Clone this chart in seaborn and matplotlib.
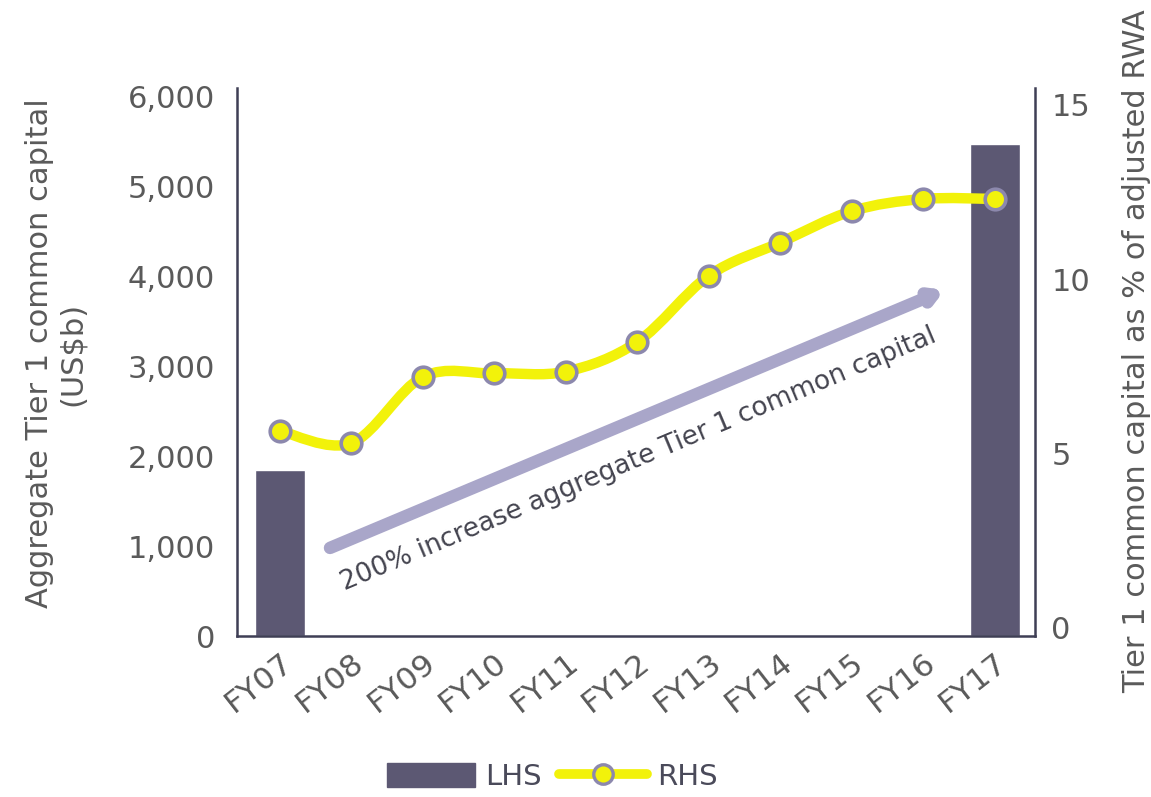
import numpy as np
import pandas as pd
import matplotlib
matplotlib.use("Agg")
import matplotlib.pyplot as plt
import seaborn as sns
from matplotlib.path import Path
from matplotlib.patches import PathPatch, Patch
from matplotlib.lines import Line2D

# Fiscal years on the category axis
years = ["FY07", "FY08", "FY09", "FY10", "FY11", "FY12",
         "FY13", "FY14", "FY15", "FY16", "FY17"]
# Aggregate Tier 1 common capital, US$b (left axis) - only endpoints shown
capital = [1850, np.nan, np.nan, np.nan, np.nan, np.nan,
           np.nan, np.nan, np.nan, np.nan, 5470]
# Tier 1 common capital as % of adjusted RWA (right axis)
ratio = [5.65, 5.3, 7.2, 7.3, 7.35, 8.2, 10.1, 11.05, 11.95, 12.3, 12.3]

left_ticks = [0, 1000, 2000, 3000, 4000, 5000, 6000]
right_ticks = [0, 5, 10, 15]

bar_color = "#5c5873"
line_color = "#f2f20a"
marker_edge = "#8c88ad"
arrow_color = "#a9a6c9"
text_color = "#5a5a5a"
spine_color = "#3f3f55"

sns.set_style("white")
plt.rcParams["font.family"] = ["DejaVu Sans"]

fig = plt.figure(figsize=(11.51, 7.97), dpi=100)
ax = fig.add_axes([0.206, 0.202, 0.693, 0.688])

df = pd.DataFrame({"year": years, "capital": capital})
sns.barplot(data=df, x="year", y="capital", order=years, color=bar_color,
            saturation=1, width=0.7, ax=ax)
ax.set_xlim(-0.6, 10.56)
ax.set_ylim(0, 6100)
ax.set_yticks(left_ticks)
ax.set_yticklabels([f"{v:,}" for v in left_ticks])
ax.set_xlabel("")
ax.set_ylabel("Aggregate Tier 1 common capital\n(US$b)", fontsize=22,
              color=text_color, linespacing=1.2)
ax.yaxis.set_label_coords(-0.188, 0.515)
ax.tick_params(axis="y", labelsize=22, colors=text_color, length=0, pad=16)
ax.tick_params(axis="x", labelsize=22.5, colors=text_color, length=0, pad=8)
plt.setp(ax.get_xticklabels(), rotation=38, ha="right", rotation_mode="anchor")

for side in ["left", "bottom", "right"]:
    ax.spines[side].set_color(spine_color)
    ax.spines[side].set_linewidth(1.8)
ax.spines["top"].set_visible(False)

# Trend arrow with caption
ax.annotate("", xy=(9.3, 3850), xytext=(0.7, 980),
            arrowprops=dict(arrowstyle="->,head_length=0.6,head_width=0.35",
                            color=arrow_color, lw=9, shrinkA=0, shrinkB=0))
ax.text(5.02, 1960, "200% increase aggregate Tier 1 common capital",
        rotation=22.8, rotation_mode="anchor", ha="center", va="center",
        fontsize=19, color="#44444f")

# Right axis: ratio line
ax2 = ax.twinx()
ax2.set_ylim(-0.23, 15.49)
ax2.set_yticks(right_ticks)
ax2.tick_params(axis="y", labelsize=22, colors=text_color, length=0, pad=12)
ax2.set_ylabel("Tier 1 common capital as % of adjusted RWA", fontsize=22,
               color=text_color)
ax2.yaxis.set_label_coords(1.11, 0.52)
for side in ["left", "bottom", "right", "top"]:
    ax2.spines[side].set_visible(False)

xs = np.arange(len(years), dtype=float)
ys = np.asarray(ratio, dtype=float)

# Smooth curve through the points (Catmull-Rom as cubic Bezier segments)
verts = [(xs[0], ys[0])]
codes = [Path.MOVETO]
for i in range(len(xs) - 1):
    p0 = np.array([xs[max(i - 1, 0)], ys[max(i - 1, 0)]])
    p1 = np.array([xs[i], ys[i]])
    p2 = np.array([xs[i + 1], ys[i + 1]])
    p3 = np.array([xs[min(i + 2, len(xs) - 1)], ys[min(i + 2, len(xs) - 1)]])
    c1 = p1 + (p2 - p0) / 6.0
    c2 = p2 - (p3 - p1) / 6.0
    verts += [tuple(c1), tuple(c2), tuple(p2)]
    codes += [Path.CURVE4] * 3
ax2.add_patch(PathPatch(Path(verts, codes), facecolor="none",
                        edgecolor=line_color, lw=7.5, capstyle="round",
                        joinstyle="round", zorder=3))

pts = pd.DataFrame({"x": xs, "ratio": ys})
sns.scatterplot(data=pts, x="x", y="ratio", ax=ax2, s=220, color=line_color,
                edgecolor=marker_edge, linewidth=2.6, zorder=4)
ax2.set_xlabel("")
ax2.set_xlim(-0.6, 10.56)

# Legend below the chart
handles = [Patch(facecolor=bar_color, edgecolor=bar_color),
           Line2D([0], [0], color=line_color, lw=7, marker="o", markersize=14,
                  markerfacecolor=line_color, markeredgecolor=marker_edge,
                  markeredgewidth=2.4)]
fig.legend(handles, ["LHS", "RHS"], loc="center", bbox_to_anchor=(0.48, 0.025),
           ncol=2, frameon=False, fontsize=21, handlelength=3.0,
           handleheight=0.9, columnspacing=0.6, handletextpad=0.35,
           labelcolor="#4a4a5a")

fig.savefig("out.png", dpi=100)
